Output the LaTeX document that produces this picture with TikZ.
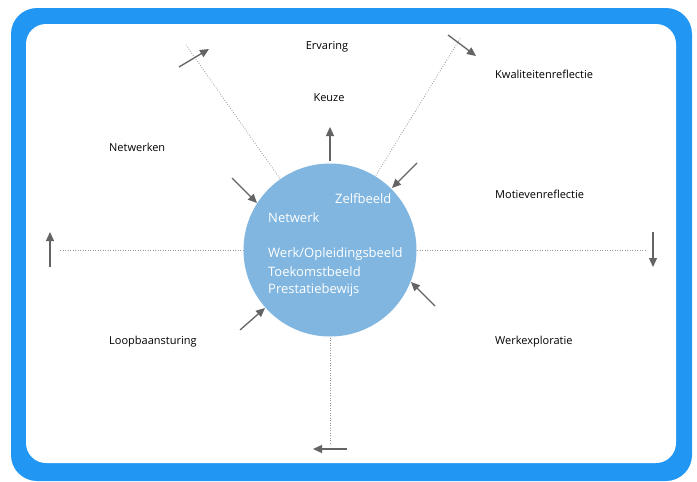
\documentclass[tikz,border=0pt]{standalone}
\usepackage{fontspec}
\setmainfont{Open Sans}
\usetikzlibrary{arrows.meta}
\definecolor{framebl}{RGB}{33,150,243}
\definecolor{corebl}{RGB}{128,182,224}
\definecolor{arrgray}{RGB}{100,100,100}
\definecolor{dotgray}{RGB}{150,150,150}
\tikzset{
  axis/.style={draw=dotgray, line width=0.8pt, dash pattern=on 0.8pt off 1.7pt},
  push/.style={draw=arrgray, line width=1.3pt, -{Triangle[length=9pt,width=8pt]}},
  lbl/.style={font=\fontsize{11}{13}\selectfont, text=black, inner sep=0pt},
  inlbl/.style={font=\fontsize{13}{15}\selectfont, text=white, inner sep=0pt, anchor=west}
}
\begin{document}
\begin{tikzpicture}[x=1pt,y=-1pt]
	\useasboundingbox (0,0) rectangle (697,482);
	% frame
	\fill [framebl, rounded corners=26pt] (11,8) rectangle (692,481);
	\fill [white, rounded corners=20pt] (26,24) rectangle (676,463);
	% axes
	\coordinate (w) at (60,250);
	\coordinate (e) at (647,250);
	\coordinate (s) at (330,445);
	\coordinate (nw) at (186,45);
	\coordinate (ne) at (461,37);
	\coordinate (c) at (330,250);
	\draw [axis] (w) -- (e);
	\draw [axis] (c) -- (s);
	\draw [axis] (c) -- (nw);
	\draw [axis] (c) -- (ne);
	\node (core) [circle, fill=corebl, minimum size=173pt, inner sep=0pt] at (c) {};
	% texts inside
	\node (zelf) [inlbl] at (335,199) {Zelfbeeld};
	\node (netw) [inlbl] at (268,218) {Netwerk};
	\node (werk) [inlbl] at (268,254) {Werk/Opleidingsbeeld};
	\node (toek) [inlbl] at (268,272) {Toekomstbeeld};
	\node (prest) [inlbl] at (268,290) {Prestatiebewijs};
	% labels
	\node (ervaring) [lbl] at (327,47) {Ervaring};
	\node (keuze) [lbl] at (329,98) {Keuze};
	\node (kwal) [lbl, anchor=west] at (495,74) {Kwaliteitenreflectie};
	\node (netwerken) [lbl, anchor=west] at (109,147) {Netwerken};
	\node (motief) [lbl, anchor=west] at (495,194) {Motievenreflectie};
	\node (loop) [lbl, anchor=west] at (109,342) {Loopbaansturing};
	\node (exploratie) [lbl, anchor=west] at (495,342) {Werkexploratie};
	% arrows
	\draw [push] (330,161) -- (330,127);
	\draw [push] (179,67) -- (209,49);
	\draw [push] (448,35) -- (476,56);
	\draw [push] (417,163) -- (392,188);
	\draw [push] (232,178) -- (257,203);
	\draw [push] (435,306) -- (411,282);
	\draw [push] (240,330) -- (265,308);
	\draw [push] (50,267) -- (50,232);
	\draw [push] (653,232) -- (653,267);
	\draw [push] (347,449) -- (313,449);
\end{tikzpicture}
\end{document}
